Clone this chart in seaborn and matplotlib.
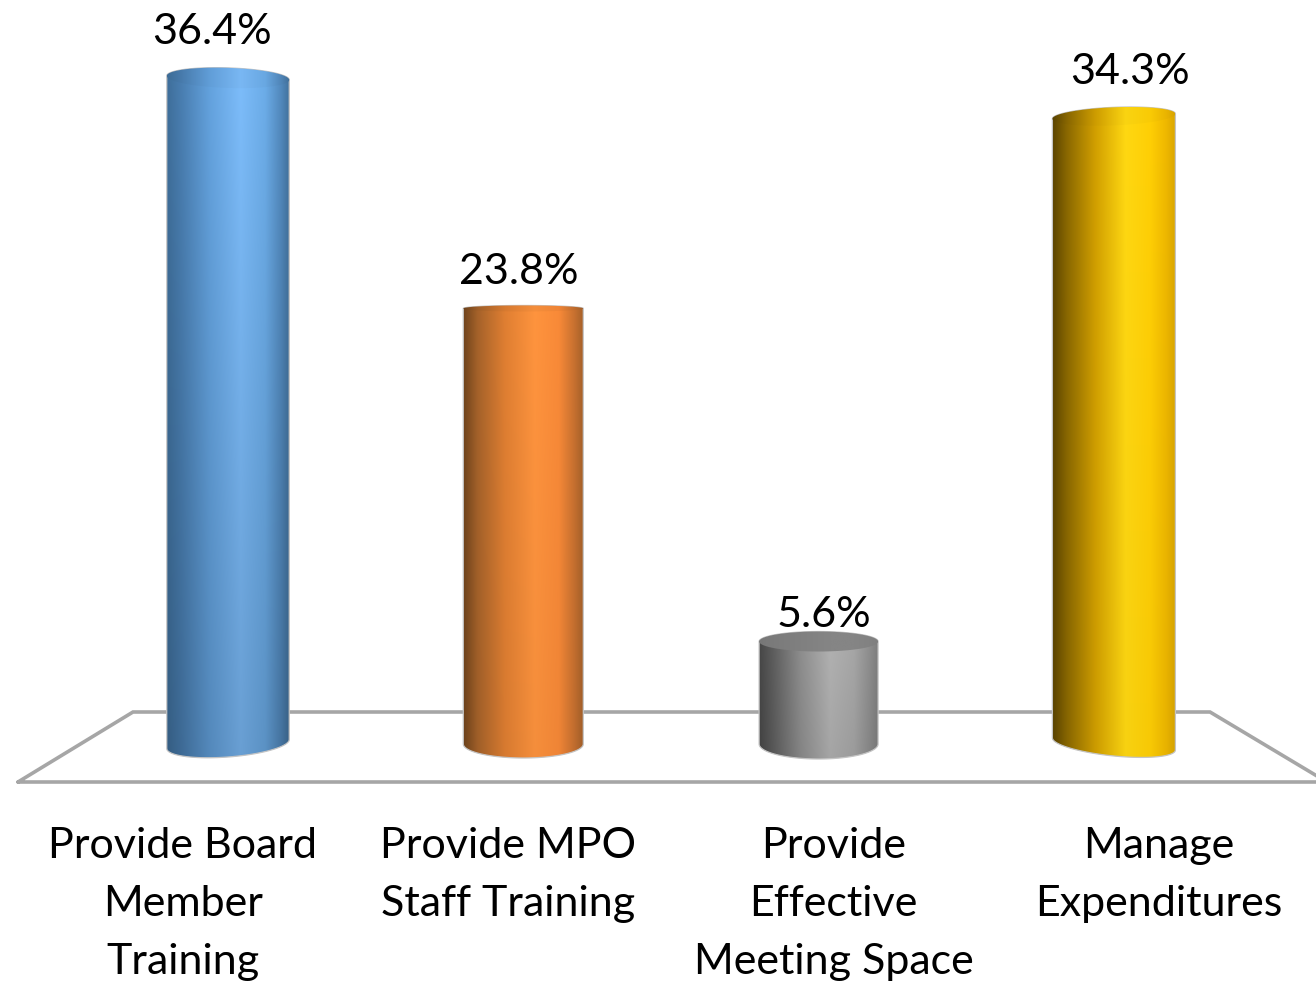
import matplotlib
matplotlib.use('Agg')
import matplotlib.pyplot as plt
import seaborn as sns
import numpy as np
import pandas as pd
from matplotlib.path import Path
from matplotlib.patches import PathPatch

categories = ["Provide Board\nMember\nTraining", "Provide MPO\nStaff Training",
              "Provide\nEffective\nMeeting Space", "Manage\nExpenditures"]
values = [36.4, 23.8, 5.6, 34.3]

# horizontal colour stops for each cylinder
stops = [0, 0.12, 0.35, 0.6, 0.8, 0.93, 1]
body_colors = [
    ["#3f6f9b", "#4a7fb2", "#64a3df", "#7dbdfb", "#6cade9", "#5289bd", "#41719c"],
    ["#6e431c", "#a5622a", "#e07f32", "#ff943e", "#f98a38", "#c87130", "#a8622a"],
    ["#474747", "#5f5f5f", "#8f8f8f", "#b3b3b3", "#a8a8a8", "#8f8f8f", "#808080"],
    ["#5a4300", "#8a6800", "#d19f00", "#ffd812", "#ffcf05", "#efb800", "#dca800"],
]
lid_colors = [
    body_colors[0],
    body_colors[1],
    ["#777777", "#7b7b7b", "#808080", "#858585", "#858585", "#828282", "#7f7f7f"],
    body_colors[3],
]
fade = [0.84, 0.96, 0.92, 0.97]
cap_shade = [0.97, 0.96, 1.0, 0.98]

# cylinder shape in pixels: width, top half-height, top tilt, bottom half-height, bottom tilt
bar_w = [122.5, 120, 119, 123]
cap_h = [10, 3, 10, 9]
cap_tilt = [-0.033, 0, 0, 0.04]
foot_h = [13, 14, 15, 12]
foot_tilt = [0.074, 0, 0, -0.098]

# label offsets in pixels from the top of each bar
label_dx = [-16, -5, 5, 16]
label_dy = [34, 24, 15, 32]

W, H = 1316, 983
px_x = 295.3   # pixels per category step
px_y = 18.3    # pixels per percent
x0, y0 = 228, 744

sns.set_theme(style="white")
plt.rcParams['font.family'] = ['Lato', 'DejaVu Sans']

fig = plt.figure(figsize=(W / 100, H / 100), dpi=100)
ax = fig.add_axes([0, 0, 1, 1])
df = pd.DataFrame({"cat": categories, "val": values})
sns.barplot(data=df, x="cat", y="val", width=0.41, color="white", ax=ax)
ax.set_xlim(-x0 / px_x, (W - x0) / px_x)
ax.set_ylim((y0 - H) / px_y, y0 / px_y)
ax.axis("off")


def rgb(c):
    return np.array(matplotlib.colors.to_rgb(c))


def gradient(colors, scale_top, scale_bot):
    arr = np.array([rgb(c) for c in colors])
    xs = np.linspace(0, 1, 256)
    row = np.stack([np.interp(xs, stops, arr[:, i]) for i in range(3)], axis=1)
    shade = np.linspace(scale_top, scale_bot, 128)[:, None, None]
    return np.clip(row[None, :, :] * shade, 0, 1)


def arc(cx, cy, a, b, tilt, t0, t1):
    # sheared ellipse, a and b and tilt in pixels
    t = np.linspace(t0, t1, 60)
    dx = a * np.cos(t)
    return np.column_stack([cx + dx / px_x, cy + (b * np.sin(t) + tilt * dx) / px_y])


# floor outline, in axes fractions
floor_x = np.array([18, 133, 1210, 1327, 18]) / W
floor_y = 1 - np.array([782, 712, 712, 782, 782]) / H
ax.plot(floor_x, floor_y, color="#a6a6a6", lw=2.6, transform=ax.transAxes,
        solid_joinstyle="miter", clip_on=True, zorder=1)

for i, p in enumerate(ax.patches[:len(values)]):
    cx = p.get_x() + p.get_width() / 2
    top = p.get_height()
    p.set_visible(False)
    a = bar_w[i] / 2
    ext_w = bar_w[i] / px_x
    extent = (cx - ext_w / 2, cx + ext_w / 2, -1.0, top + 1.0)

    # side of the cylinder: front of the foot then back of the top
    foot = arc(cx, 0, a, foot_h[i], foot_tilt[i], np.pi, 2 * np.pi)
    back = arc(cx, top, a, cap_h[i], cap_tilt[i], 0, np.pi)
    outline = np.vstack([foot, back, foot[:1]])
    shape = PathPatch(Path(outline), transform=ax.transData, facecolor="none",
                      edgecolor="#c4c4c4", lw=0.9, zorder=4)
    ax.add_patch(shape)
    im = ax.imshow(gradient(body_colors[i], 1.0, fade[i]), extent=extent, aspect="auto",
                   origin="upper", interpolation="bilinear", zorder=3)
    im.set_clip_path(shape)

    # lid of the cylinder
    lid = arc(cx, top, a, cap_h[i], cap_tilt[i], 0, 2 * np.pi)
    lid_patch = PathPatch(Path(lid), transform=ax.transData, facecolor="none",
                          edgecolor="none", zorder=5)
    ax.add_patch(lid_patch)
    im2 = ax.imshow(gradient(lid_colors[i], cap_shade[i], cap_shade[i]), extent=extent,
                    aspect="auto", origin="upper", interpolation="bilinear", zorder=5)
    im2.set_clip_path(lid_patch)

    ax.annotate(f"{values[i]}%", xy=(cx, top), xytext=(label_dx[i], label_dy[i]),
                textcoords="offset pixels", ha="center", va="baseline",
                fontsize=31, color="black", zorder=6)

ax.set_xlim(-x0 / px_x, (W - x0) / px_x)
ax.set_ylim((y0 - H) / px_y, y0 / px_y)

# tick labels sit on the front edge of the floor, so they get their own spacing
ax2 = fig.add_axes([0, 0, 1, 1 - 827 / H], frameon=False)
ax2.set_facecolor("none")
ax2.set_xlim(-183 / 325.3, (W - 183) / 325.3)
ax2.set_xticks(range(len(categories)))
ax2.set_xticklabels(categories, fontsize=31, color="black", linespacing=1.64)
ax2.xaxis.tick_top()
ax2.tick_params(axis="x", length=0, pad=0)
ax2.set_yticks([])
for lab in ax2.get_xticklabels():
    lab.set_va("top")
    lab.set_y(1.0)
    lab.set_transform(ax2.get_xaxis_transform())

fig.savefig("out.png", dpi=100)
